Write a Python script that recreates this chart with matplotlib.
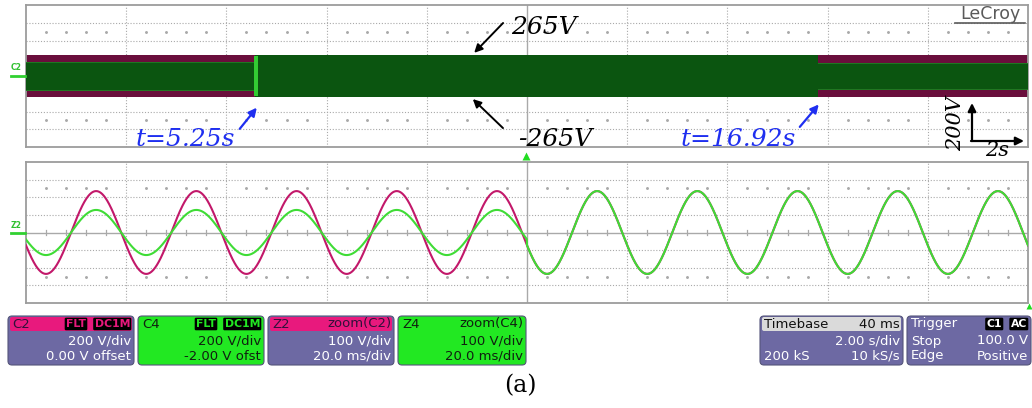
import numpy as np
import matplotlib.pyplot as plt
from matplotlib.patches import FancyBboxPatch

W, H = 1032, 408

# ---- long record (2 s/div): envelopes of C2 / C4 between the switching instants
seg_t = [0.5, 5.25, 16.92, 21.27]
c2_env = [265, 265, 265]
c4_env = [170, 265, 168]

# ---- zoom traces (20 ms/div, 100 V/div), 50 Hz grid voltage
zoom_ms = [-100, 100]
f_line = 50.0
z_peak_ms = -86.0
z2_amp = 235
z4_amp_before = 128
z4_amp_after = 235
switch_ms = 0.0

GRID = '#a9a9a9'
FRAME = '#9c9c9c'
MAROON = '#6a0e3c'
DKGREEN = '#0b5510'
MAGENTA = '#c2186a'
GREEN = '#3fdc36'
PURPLE = '#6d69a3'
HOTPINK = '#e8197d'
LIME = '#22e822'
BLUE = '#1f2ff0'


def ip(x, y):
    # pixel (from top-left) -> inches for dpi_scale_trans
    return x / 100.0, (H - y) / 100.0


def scope_grid(ax):
    for k in range(1, 10):
        ls = '-' if k == 5 else (0, (1, 1.6))
        lw = 1.0 if k == 5 else 0.8
        ax.plot([k / 10, k / 10], [0, 1], transform=ax.transAxes,
                color=GRID, ls=ls, lw=lw, zorder=0)
    for j in range(1, 8):
        ls = '-' if j == 4 else (0, (1, 1.6))
        lw = 1.0 if j == 4 else 0.8
        ax.plot([0, 1], [j / 8, j / 8], transform=ax.transAxes,
                color=GRID, ls=ls, lw=lw, zorder=0)
    # minor marks: ticks on the centre line, dot rows above/below
    xs = [i / 50 for i in range(1, 50) if i % 5 != 0]
    for x in xs:
        ax.plot([x, x], [0.5 - 0.02, 0.5 + 0.02], transform=ax.transAxes,
                color=GRID, lw=0.9, zorder=0)
    ax.scatter(xs * 2, [1.5 / 8] * len(xs) + [6.5 / 8] * len(xs),
               transform=ax.transAxes, s=1.2, color=GRID, zorder=0)
    for s in ax.spines.values():
        s.set_color(FRAME)
        s.set_linewidth(1.3)
    ax.set_xticks([])
    ax.set_yticks([])


fig = plt.figure(figsize=(W / 100, H / 100), dpi=100)

# ================= top: whole record =================
ax1 = fig.add_axes([26 / W, 1 - 147 / H, 1002 / W, 142 / H])
scope_grid(ax1)
ax1.set_xlim(seg_t[0], seg_t[-1])
ax1.set_ylim(-890, 890)
for i in range(len(c2_env)):
    ax1.fill_between([seg_t[i], seg_t[i + 1]], -c2_env[i], c2_env[i],
                     color=MAROON, lw=0, zorder=2)
    ax1.fill_between([seg_t[i], seg_t[i + 1]], -c4_env[i], c4_env[i],
                     color=DKGREEN, lw=0, zorder=3)
# slightly lighter rim of the C4 band outside the dense interval
for i in (0, 2):
    for sgn in (-1, 1):
        ax1.plot([seg_t[i], seg_t[i + 1]], [sgn * c4_env[i]] * 2,
                 color='#1f7a22', lw=0.7, zorder=3)
ax1.fill_between([seg_t[1] - 0.02, seg_t[1] + 0.06], -245, 245,
                 color='#33cc33', lw=0, zorder=4)

# annotations on the record
ax1.annotate('', xy=(9.75, 265), xytext=(505, H - 21),
             textcoords='figure pixels',
             arrowprops=dict(arrowstyle='-|>', color='black', lw=1.4,
                             mutation_scale=12), zorder=6)
ax1.annotate('', xy=(9.72, -265), xytext=(505, H - 130),
             textcoords='figure pixels',
             arrowprops=dict(arrowstyle='-|>', color='black', lw=1.4,
                             mutation_scale=12), zorder=6)
ax1.annotate('', xy=(5.32, -370), xytext=(238, H - 131),
             textcoords='figure pixels',
             arrowprops=dict(arrowstyle='-|>', color=BLUE, lw=1.6,
                             mutation_scale=12), zorder=6)
ax1.annotate('', xy=(16.97, -330), xytext=(798, H - 129),
             textcoords='figure pixels',
             arrowprops=dict(arrowstyle='-|>', color=BLUE, lw=1.6,
                             mutation_scale=12), zorder=6)

ann = dict(family='DejaVu Serif', style='italic',
           transform=fig.dpi_scale_trans, va='center')
fig.text(*ip(511, 28), '265V', ha='left', fontsize=18, **ann)
fig.text(*ip(518, 139), '-265V', ha='left', fontsize=18, **ann)
fig.text(*ip(235, 139), 't=5.25s', ha='right', color=BLUE, fontsize=18, **ann)
fig.text(*ip(796, 139), 't=16.92s', ha='right', color=BLUE, fontsize=18, **ann)

# scale arrows
ax1.annotate('', xy=(972, H - 103), xytext=(972, H - 141),
             xycoords='figure pixels', textcoords='figure pixels',
             arrowprops=dict(arrowstyle='-|>', color='black', lw=1.6,
                             mutation_scale=12, shrinkA=0, shrinkB=0))
ax1.annotate('', xy=(1024, H - 141), xytext=(971, H - 141),
             xycoords='figure pixels', textcoords='figure pixels',
             arrowprops=dict(arrowstyle='-|>', color='black', lw=1.6,
                             mutation_scale=12, shrinkA=0, shrinkB=0))
fig.text(*ip(956, 124), '200V', rotation=90, ha='center', fontsize=15, **ann)
fig.text(*ip(997, 151), '2s', ha='center', fontsize=15, **ann)

# LeCroy logo
fig.text(*ip(990, 14), 'LeCroy', ha='center', va='center', fontsize=12.5,
         color='#5a5a5a', transform=fig.dpi_scale_trans)
fig.add_artist(plt.Line2D([955 / W, 1025 / W], [1 - 23 / H, 1 - 23 / H],
                          color='#5a5a5a', lw=1.2))

# ================= bottom: zoom traces =================
ax2 = fig.add_axes([26 / W, 1 - 303 / H, 1002 / W, 141 / H])
scope_grid(ax2)
t = np.linspace(zoom_ms[0], zoom_ms[1], 4001)
phase = 2 * np.pi * f_line * (t - z_peak_ms) / 1000.0
z2 = z2_amp * np.cos(phase)
z4 = np.where(t < switch_ms, z4_amp_before, z4_amp_after) * np.cos(phase)
ax2.plot(t, z2, color=MAGENTA, lw=1.5, zorder=3)
ax2.plot(t, z4, color=GREEN, lw=1.5, zorder=4)
ax2.set_xlim(zoom_ms)
ax2.set_ylim(-400, 400)

# channel markers at left edge
for y, lab in ((68, 'C2'), (225, 'Z2')):
    fig.text(*ip(16, y), lab, fontsize=5.5, color='#30c030', ha='center',
             va='center', transform=fig.dpi_scale_trans, weight='bold')
    fig.add_artist(plt.Line2D([11 / W, 25 / W], [1 - (y + 8) / H] * 2,
                              color='#30d030', lw=2))
# trigger marker
fig.add_artist(plt.Line2D([526 / W], [1 - 156 / H], marker='^', ms=6,
                          color='#22dd22', mec='none'))
fig.add_artist(plt.Line2D([1029 / W], [1 - 306 / H], marker='^', ms=4,
                          color='#22dd22', mec='none'))

# ================= info boxes =================
BODY_TXT = dict(fontsize=9.5, transform=fig.dpi_scale_trans, va='center',
                family='DejaVu Sans')


def info_box(x0, x1, body, head, head_l, head_r, row2, row3,
             tcol, hcol, tags=(), tagcol=None):
    bx, by = ip(x0, 365)
    fig.patches.append(FancyBboxPatch(
        (bx, by), (x1 - x0) / 100, 49 / 100,
        boxstyle='round,pad=0,rounding_size=0.04',
        fc=body, ec='#55557a', lw=0.8, transform=fig.dpi_scale_trans))
    if head is not None:
        hx, hy = ip(x0 + 2, 331)
        fig.patches.append(FancyBboxPatch(
            (hx, hy), (x1 - x0 - 4) / 100, 14 / 100,
            boxstyle='round,pad=0,rounding_size=0.02',
            fc=head, ec='none', transform=fig.dpi_scale_trans))
    fig.text(*ip(x0 + 4, 324), head_l, ha='left', color=hcol, **BODY_TXT)
    if head_r:
        fig.text(*ip(x1 - 3, 324), head_r, ha='right', color=hcol, **BODY_TXT)
    # black tags in the header, given as (text, right edge offset)
    for tg, off in tags:
        fig.text(*ip(x1 - off, 324), tg, ha='right', color=tagcol,
                 fontsize=7.8, transform=fig.dpi_scale_trans, va='center',
                 weight='bold', family='DejaVu Sans',
                 bbox=dict(boxstyle='round,pad=0.12', fc='black', ec='none'))
    for (y, (l, r)) in ((341, row2), (356, row3)):
        if l:
            fig.text(*ip(x0 + 4, y), l, ha='left', color=tcol, **BODY_TXT)
        if r:
            fig.text(*ip(x1 - 3, y), r, ha='right', color=tcol, **BODY_TXT)


flt_tags = [('FLT', 48), ('DC1M', 4)]
info_box(8, 134, PURPLE, HOTPINK, 'C2', '', ('', '200 V/div'),
         ('', '0.00 V offset'), 'white', '#30103a',
         tags=flt_tags, tagcol=HOTPINK)
info_box(138, 264, LIME, None, 'C4', '', ('', '200 V/div'),
         ('', '-2.00 V ofst'), '#102010', '#102010',
         tags=flt_tags, tagcol=LIME)
info_box(268, 394, PURPLE, HOTPINK, 'Z2', 'zoom(C2)', ('', '100 V/div'),
         ('', '20.0 ms/div'), 'white', '#30103a')
info_box(398, 526, LIME, None, 'Z4', 'zoom(C4)', ('', '100 V/div'),
         ('', '20.0 ms/div'), '#102010', '#102010')
info_box(760, 903, PURPLE, '#dadada', 'Timebase', '40 ms',
         ('', '2.00 s/div'), ('200 kS', '10 kS/s'), 'white', '#111111')
info_box(907, 1031, PURPLE, None, 'Trigger', '', ('Stop', '100.0 V'),
         ('Edge', 'Positive'), 'white', 'white',
         tags=[('C1', 29), ('AC', 4)], tagcol='white')

fig.text(*ip(520, 386), '(a)', ha='center', va='center', fontsize=17,
         family='DejaVu Serif', transform=fig.dpi_scale_trans)

fig.savefig('out.png', dpi=100, facecolor='white')
